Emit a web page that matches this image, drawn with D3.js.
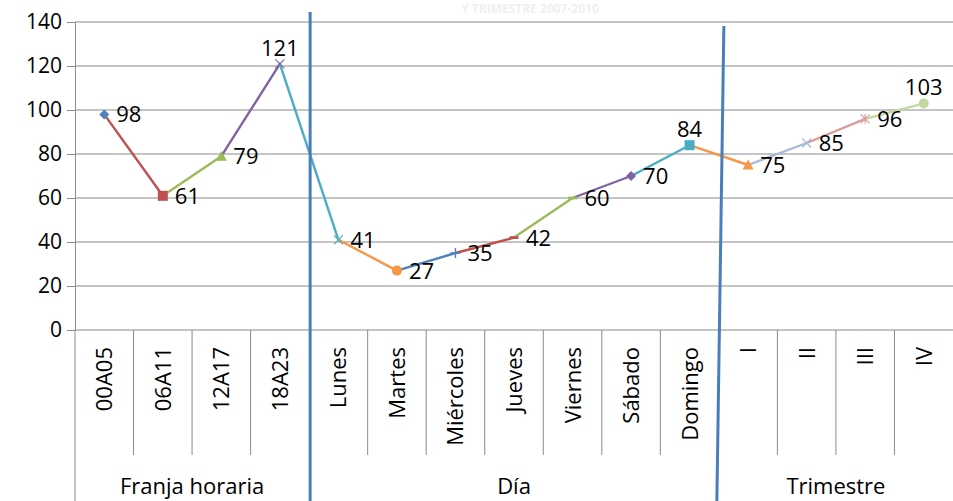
<!DOCTYPE html>
<html>
<head>
<meta charset="utf-8">
<script src="https://cdn.jsdelivr.net/npm/d3@7"></script>
<style>
  html, body { margin: 0; padding: 0; background: #fff; }
  svg { display: block; }
  text { font-family: "Open Sans", "Lato", sans-serif; fill: #000; }
</style>
</head>
<body>
<svg id="chart" width="953" height="501"></svg>
<script>
// ---------- data ----------
const categories = ["00A05","06A11","12A17","18A23","Lunes","Martes","Miércoles","Jueves","Viernes","Sábado","Domingo","I","II","III","IV"];
const values = [98, 61, 79, 121, 41, 27, 35, 42, 60, 70, 84, 75, 85, 96, 103];
const groups = ["Franja horaria", "Día", "Trimestre"];
const groupSizes = [4, 7, 4];
const yTicks = [0, 20, 40, 60, 80, 100, 120, 140];
const pointColors = ["#4F81BD","#C0504D","#9BBB59","#8064A2","#4BACC6","#F79646","#4F81BD","#C0504D","#9BBB59","#8064A2","#4BACC6","#F79646","#A7BADB","#DA9B99","#C4D79E"];
const markerShapes = ["diamond","square","triangle","x","x","circle","plus","dash","dash","diamond","square","triangle","x","star","circle"];
const labelPos = ["right","right","right","above","right","right","right","right","right","right","above","right","right","right","above"];
const faintTitle = "Y TRIMESTRE  2007-2010";

// ---------- layout ----------
const W = 953, H = 501;
const plot = { left: 75, right: 953, top: 22, bottom: 330 };
const FS = "22px";
const svg = d3.select("#chart");

const x = d3.scaleBand().domain(d3.range(categories.length)).range([plot.left, plot.right]).padding(0);
const y = d3.scaleLinear().domain([0, 140]).range([plot.bottom, plot.top]);
const cx = i => x(i) + x.bandwidth() / 2;

const gridColor = "#8a8a8a";

// faint title (very light, at the top edge)
svg.append("text").attr("x", 530).attr("y", 13).attr("text-anchor", "middle")
  .style("font-size", "12px").style("font-weight", "bold").style("fill", "#f0f0f0")
  .text(faintTitle);

// gridlines + y ticks
const yAxis = d3.axisLeft(y).tickValues(yTicks).tickSize(8).tickPadding(5).tickFormat(d3.format("d"));
const gy = svg.append("g").attr("transform", `translate(${plot.left},0)`).call(yAxis);
gy.select(".domain").attr("stroke", gridColor);
gy.selectAll(".tick line").attr("stroke", gridColor);
gy.selectAll(".tick text").style("font-size", "21px").style("font-family", "'Open Sans', sans-serif").attr("fill", "#000");

svg.append("g").selectAll("line").data(yTicks).join("line")
  .attr("x1", plot.left).attr("x2", plot.right)
  .attr("y1", d => y(d)).attr("y2", d => y(d))
  .attr("stroke", gridColor).attr("stroke-width", 1);

// left border down to bottom
svg.append("line").attr("x1", plot.left).attr("x2", plot.left).attr("y1", plot.bottom).attr("y2", H)
  .attr("stroke", gridColor);

// category dividers
const dividerBottom = 455;
const boundaries = [];
let acc = 0;
groupSizes.forEach(s => { acc += s; boundaries.push(acc); });
svg.append("g").selectAll("line").data(d3.range(1, categories.length).filter(i => !boundaries.includes(i))).join("line")
  .attr("x1", i => x(i)).attr("x2", i => x(i))
  .attr("y1", plot.bottom).attr("y2", dividerBottom)
  .attr("stroke", gridColor);

// category labels (rotated)
svg.append("g").selectAll("text").data(categories).join("text")
  .attr("transform", (d, i) => `translate(${cx(i) + 8},347) rotate(-90)`)
  .attr("text-anchor", "end")
  .style("font-size", FS)
  .text(d => d);

// group labels
let start = 0;
groups.forEach((g, gi) => {
  const n = groupSizes[gi];
  const mid = (x(start) + x(start + n - 1) + x.bandwidth()) / 2;
  svg.append("text").attr("x", mid).attr("y", 494).attr("text-anchor", "middle")
    .style("font-size", FS).text(g);
  start += n;
});

// line segments colored by destination point
svg.append("g").selectAll("line").data(d3.range(1, values.length)).join("line")
  .attr("x1", i => cx(i - 1)).attr("y1", i => y(values[i - 1]))
  .attr("x2", i => cx(i)).attr("y2", i => y(values[i]))
  .attr("stroke", i => pointColors[i]).attr("stroke-width", 2.4).attr("stroke-linecap", "round");

// markers
const mg = svg.append("g");
values.forEach((v, i) => {
  const px = cx(i), py = y(v), c = pointColors[i], s = markerShapes[i];
  const g = mg.append("g").attr("transform", `translate(${px},${py})`);
  if (s === "diamond") g.append("path").attr("d", "M0,-5L5,0L0,5L-5,0Z").attr("fill", c);
  else if (s === "square") g.append("rect").attr("x", -5).attr("y", -5).attr("width", 10).attr("height", 10).attr("fill", c);
  else if (s === "triangle") g.append("path").attr("d", "M0,-5.5L5.5,4.5L-5.5,4.5Z").attr("fill", c);
  else if (s === "circle") g.append("circle").attr("r", 5).attr("fill", c);
  else if (s === "x") g.append("path").attr("d", "M-4.5,-4.5L4.5,4.5M-4.5,4.5L4.5,-4.5").attr("stroke", c).attr("stroke-width", 1.2);
  else if (s === "star") g.append("path").attr("d", "M-4.5,-4.5L4.5,4.5M-4.5,4.5L4.5,-4.5M0,-5L0,5").attr("stroke", c).attr("stroke-width", 1.2);
  else if (s === "plus") g.append("path").attr("d", "M-5,0L5,0M0,-5L0,5").attr("stroke", c).attr("stroke-width", 1.4);
  else if (s === "dash") g.append("path").attr("d", "M-4.5,0L4.5,0").attr("stroke", c).attr("stroke-width", 2.8);
});

// data labels
svg.append("g").selectAll("text").data(values).join("text")
  .attr("x", (d, i) => labelPos[i] === "above" ? cx(i) : cx(i) + 12)
  .attr("y", (d, i) => labelPos[i] === "above" ? y(d) - 8 : y(d) + 8)
  .attr("text-anchor", (d, i) => labelPos[i] === "above" ? "middle" : "start")
  .style("font-size", FS)
  .text(d => d);

// blue group separators (drawn lines)
const sepColor = "#4A7EBB";
const b1 = x(boundaries[0]), b2 = x(boundaries[1]);
svg.append("line").attr("x1", b1 + 1).attr("x2", b1 + 1).attr("y1", 12).attr("y2", H)
  .attr("stroke", sepColor).attr("stroke-width", 3);
svg.append("line").attr("x1", b2 + 5).attr("x2", b2 - 2).attr("y1", 26).attr("y2", H)
  .attr("stroke", sepColor).attr("stroke-width", 3);
</script>
</body>
</html>
